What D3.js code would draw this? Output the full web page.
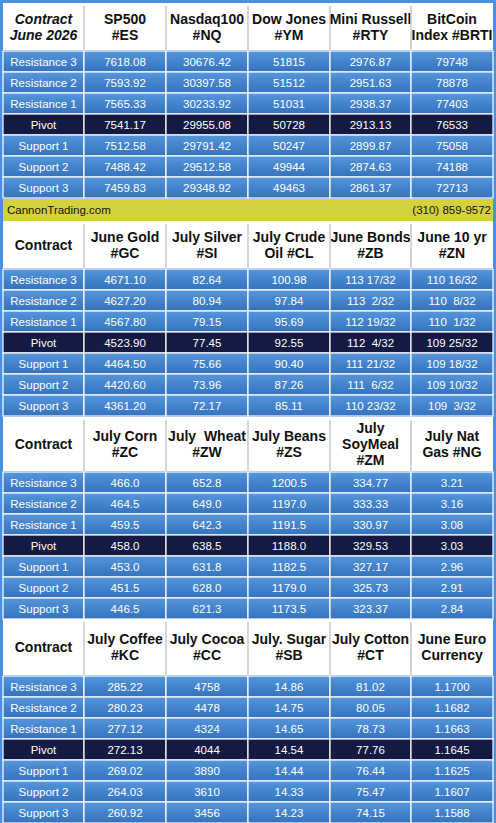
<!DOCTYPE html>
<html><head><meta charset="utf-8">
<script src="https://cdn.jsdelivr.net/npm/d3@7"></script>
<style>body{margin:0;background:#4a8fe0}svg{display:block}</style>
</head><body>
<svg width="496" height="823"></svg>
<script>
var rowLabels = ["Resistance 3","Resistance 2","Resistance 1","Pivot","Support 1","Support 2","Support 3"];

var headers1 = [["SP500","#ES"],["Nasdaq100","#NQ"],["Dow Jones","#YM"],["Mini Russell","#RTY"],["BitCoin","Index #BRTI"]];
var values1 = [
  ["7618.08","30676.42","51815","2976.87","79748"],
  ["7593.92","30397.58","51512","2951.63","78878"],
  ["7565.33","30233.92","51031","2938.37","77403"],
  ["7541.17","29955.08","50728","2913.13","76533"],
  ["7512.58","29791.42","50247","2899.87","75058"],
  ["7488.42","29512.58","49944","2874.63","74188"],
  ["7459.83","29348.92","49463","2861.37","72713"]];

var headers2 = [["June Gold","#GC"],["July Silver","#SI"],["July Crude","Oil #CL"],["June Bonds","#ZB"],["June 10 yr","#ZN"]];
var values2 = [
  ["4671.10","82.64","100.98","113 17/32","110 16/32"],
  ["4627.20","80.94","97.84","113  2/32","110  8/32"],
  ["4567.80","79.15","95.69","112 19/32","110  1/32"],
  ["4523.90","77.45","92.55","112  4/32","109 25/32"],
  ["4464.50","75.66","90.40","111 21/32","109 18/32"],
  ["4420.60","73.96","87.26","111  6/32","109 10/32"],
  ["4361.20","72.17","85.11","110 23/32","109  3/32"]];

var headers3 = [["July Corn","#ZC"],["July  Wheat","#ZW"],["July Beans","#ZS"],["July","SoyMeal","#ZM"],["July Nat","Gas #NG"]];
var values3 = [
  ["466.0","652.8","1200.5","334.77","3.21"],
  ["464.5","649.0","1197.0","333.33","3.16"],
  ["459.5","642.3","1191.5","330.97","3.08"],
  ["458.0","638.5","1188.0","329.53","3.03"],
  ["453.0","631.8","1182.5","327.17","2.96"],
  ["451.5","628.0","1179.0","325.73","2.91"],
  ["446.5","621.3","1173.5","323.37","2.84"]];

var headers4 = [["July Coffee","#KC"],["July Cocoa","#CC"],["July. Sugar","#SB"],["July Cotton","#CT"],["June Euro","Currency"]];
var values4 = [
  ["285.22","4758","14.86","81.02","1.1700"],
  ["280.23","4478","14.75","80.05","1.1682"],
  ["277.12","4324","14.65","78.73","1.1663"],
  ["272.13","4044","14.54","77.76","1.1645"],
  ["269.02","3890","14.44","76.44","1.1625"],
  ["264.03","3610","14.33","75.47","1.1607"],
  ["260.92","3456","14.23","74.15","1.1588"]];

var blocks = [
  {title:["Contract","June 2026"], italic:true, headers:headers1, values:values1, top:3, hh:47},
  {title:["Contract"], headers:headers2, values:values2, top:221, hh:47},
  {title:["Contract"], headers:headers3, values:values3, top:417, hh:54},
  {title:["Contract"], headers:headers4, values:values4, top:619, hh:56}
];

var svg = d3.select("svg");
var font = "Liberation Sans, Arial, sans-serif";
var colX = [3,84,166,248,330,411,493];
var rowH = 21;

var defs = svg.append("defs");
var g1 = defs.append("linearGradient").attr("id","blue").attr("x1",0).attr("y1",0).attr("x2",0).attr("y2",1);
g1.append("stop").attr("offset","0%").attr("stop-color","#5596dc");
g1.append("stop").attr("offset","100%").attr("stop-color","#3472bd");

svg.append("rect").attr("width",496).attr("height",823).attr("fill","#4a8fe0");

blocks.forEach(function(b){
  var g = svg.append("g");
  // header
  g.append("rect").attr("x",3).attr("y",b.top).attr("width",490).attr("height",b.hh).attr("fill","#fff");
  var cols = [b.title].concat(b.headers);
  cols.forEach(function(lines,i){
    if (i>0) g.append("line").attr("x1",colX[i]).attr("x2",colX[i]).attr("y1",b.top+3).attr("y2",b.top+b.hh)
      .attr("stroke","#c8c8c8").attr("stroke-width",1.5);
    var cx = (colX[i]+colX[i+1])/2, cy = b.top+b.hh/2;
    var lh = 16;
    var t = g.append("text").attr("x",cx).attr("text-anchor","middle")
      .attr("font-family",font).attr("font-weight","bold").attr("font-size",14)
      .attr("font-style", i==0 && b.italic ? "italic" : "normal").attr("fill","#111");
    lines.forEach(function(l,j){
      t.append("tspan").attr("x",cx).attr("y",cy+(j-(lines.length-1)/2)*lh+5).attr("xml:space","preserve").text(l);
    });
  });
  var y = d3.scaleBand().domain(d3.range(7)).range([b.top+b.hh+1, b.top+b.hh+1+7*rowH]);
  b.values.forEach(function(row,r){
    var cells = [rowLabels[r]].concat(row);
    cells.forEach(function(v,i){
      g.append("rect").attr("x",colX[i]).attr("y",y(r)).attr("width",colX[i+1]-colX[i]).attr("height",y.bandwidth())
        .attr("fill", r==3 ? "#141a42" : "url(#blue)").attr("stroke","#fff").attr("stroke-width",1.2);
      g.append("text").attr("x",(colX[i]+colX[i+1])/2).attr("y",y(r)+y.bandwidth()/2+4.5)
        .attr("text-anchor","middle").attr("font-family",font).attr("font-size",11.5).attr("fill","#fff")
        .attr("xml:space","preserve").text(v);
    });
  });
});

// yellow banner
svg.append("rect").attr("x",3).attr("y",199).attr("width",490).attr("height",22).attr("fill","#d4d23c");
svg.append("text").attr("x",7).attr("y",214).attr("font-family",font).attr("font-size",11.5).attr("fill","#111").text("CannonTrading.com");
svg.append("text").attr("x",491).attr("y",214).attr("text-anchor","end").attr("font-family",font).attr("font-size",11.5).attr("fill","#111").text("(310) 859-9572");
</script>
</body></html>
